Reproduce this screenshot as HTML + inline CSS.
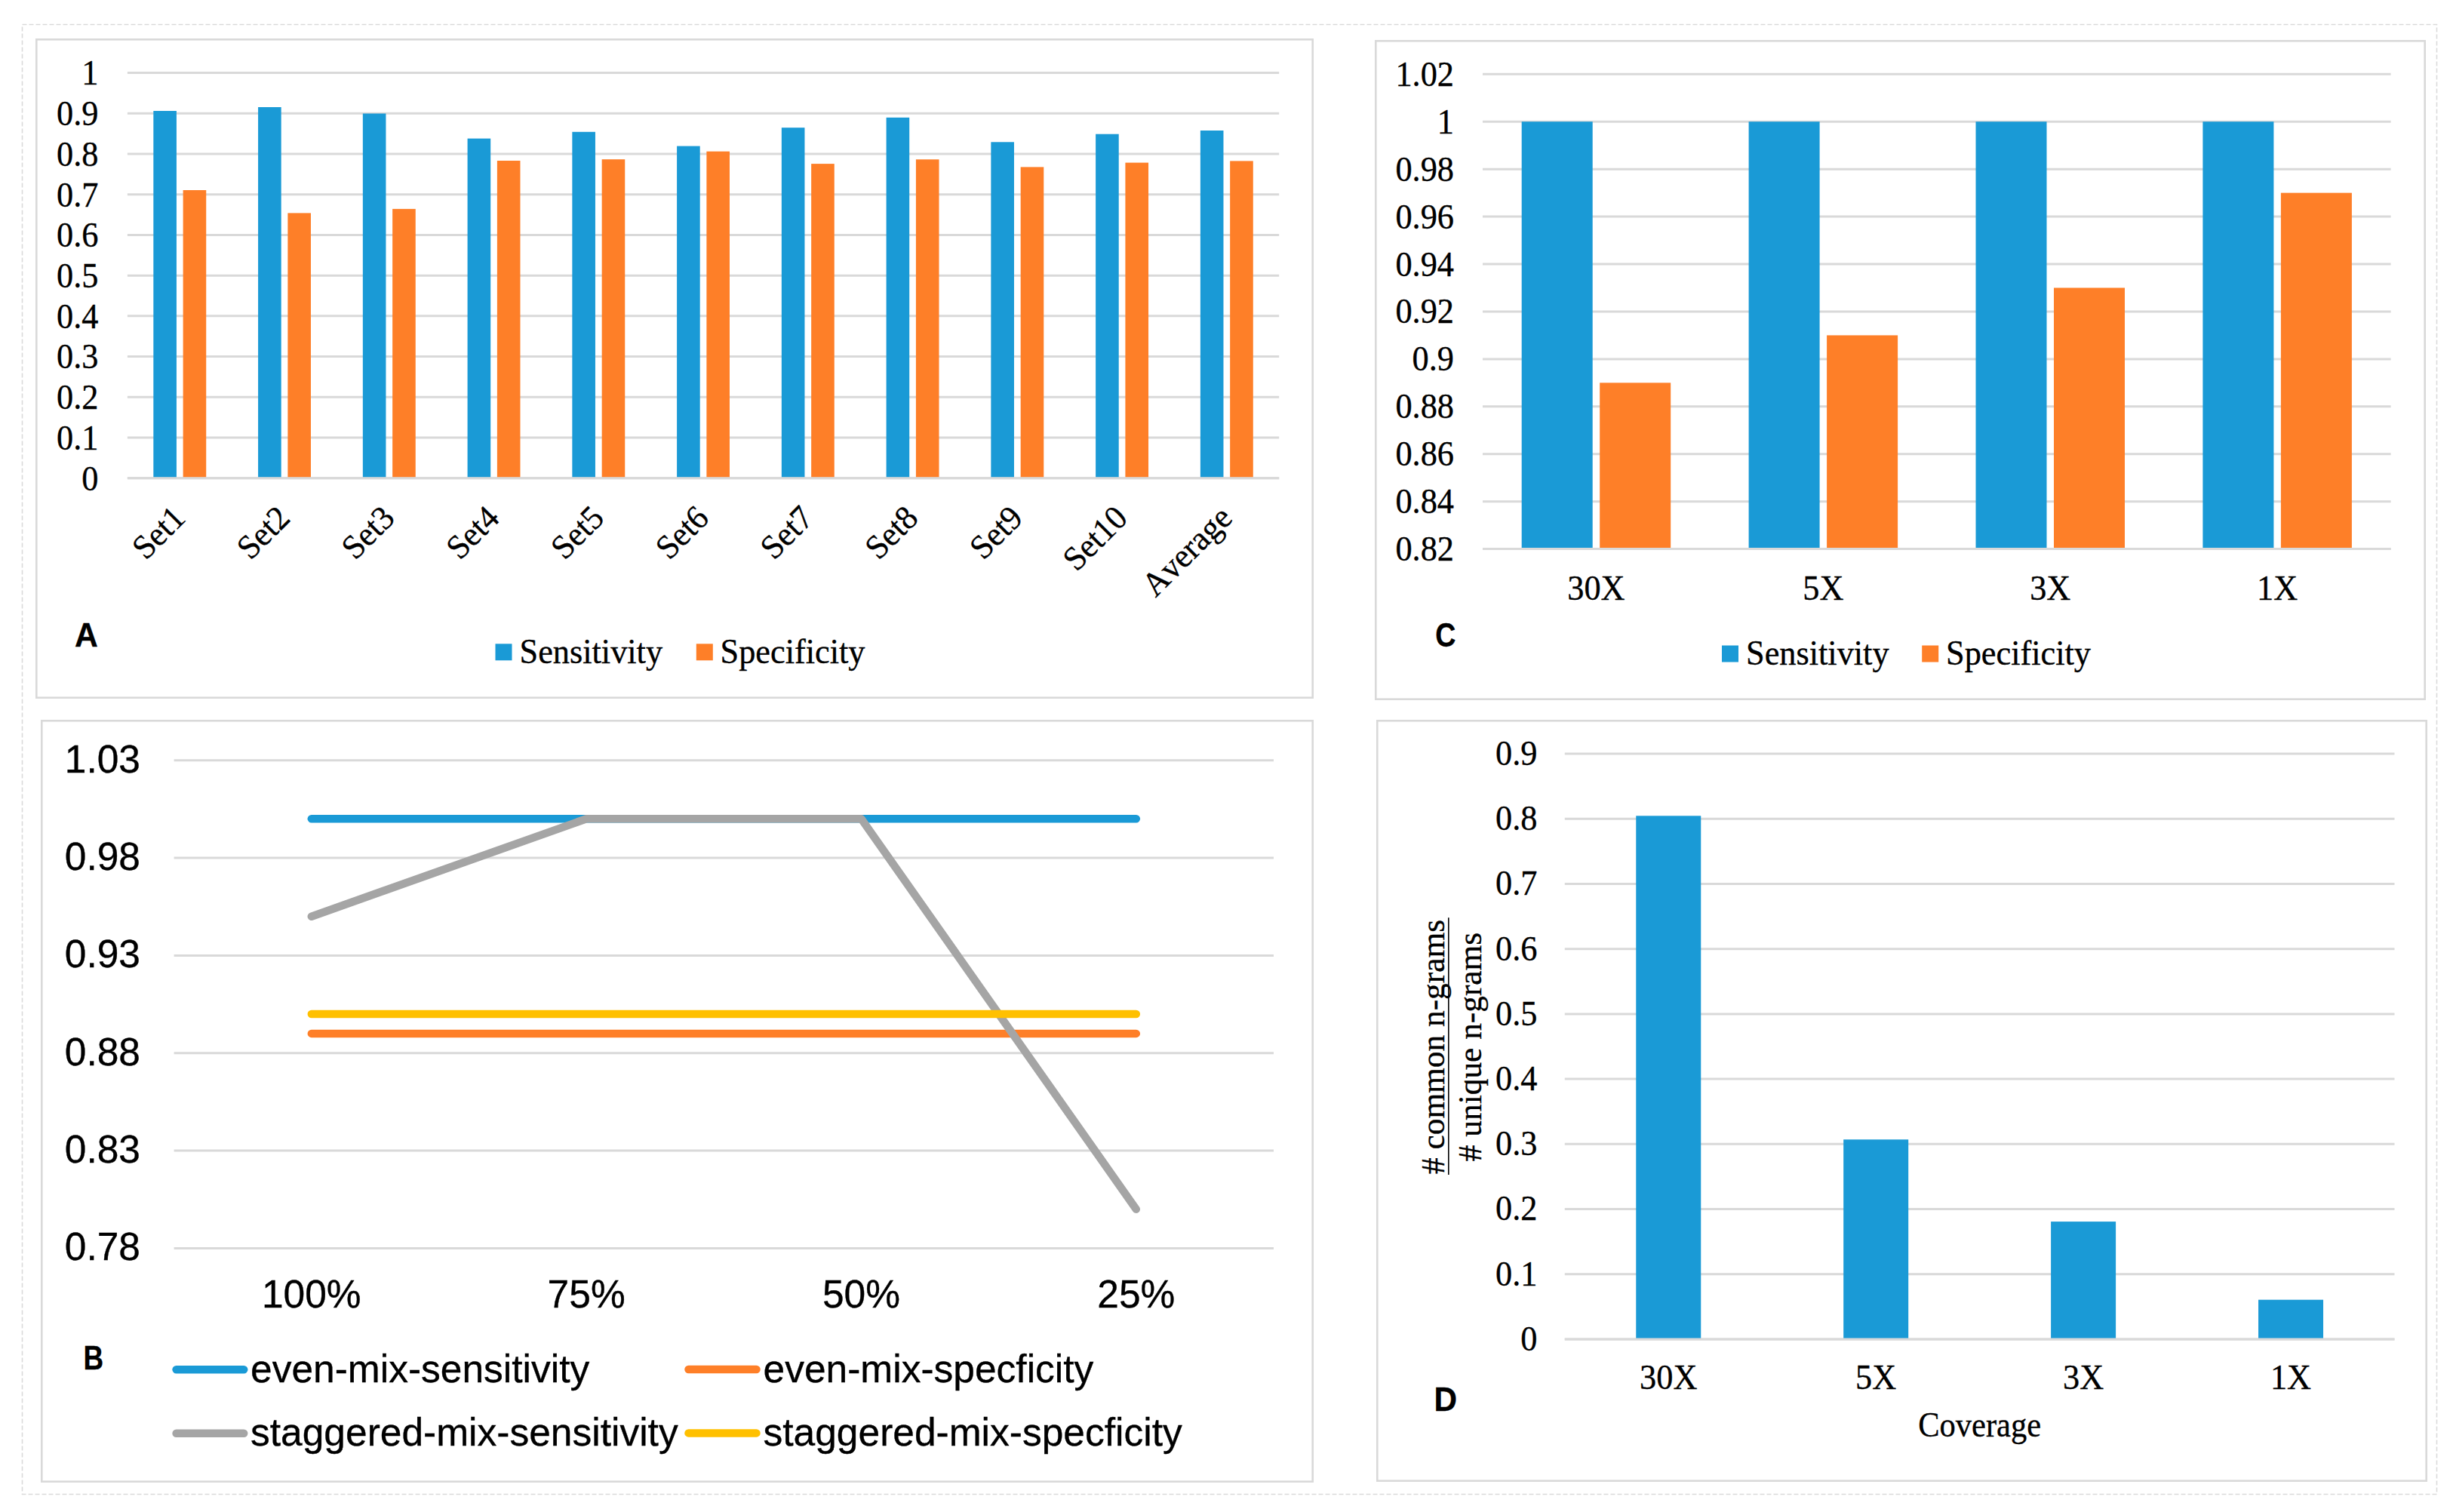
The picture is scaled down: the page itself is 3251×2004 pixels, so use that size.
<!DOCTYPE html>
<html><head><meta charset="utf-8"><title>Figure</title>
<style>html,body{margin:0;padding:0;background:#fff;overflow:hidden;}svg{display:block;}text{font-variant-ligatures:none;font-kerning:none;stroke:#000;stroke-width:0.35px;}</style>
</head><body>
<svg width="3251" height="2004" viewBox="0 0 3251 2004">
<rect x="0" y="0" width="3251" height="2004" fill="#ffffff"/>
<rect x="29.5" y="32.5" width="3200" height="1948" fill="none" stroke="#dadada" stroke-width="1.6" stroke-dasharray="6 3"/>
<rect x="48.3" y="52.3" width="1691.4" height="872.4" fill="none" stroke="#d9d9d9" stroke-width="2.6"/>
<rect x="1823.3" y="54.3" width="1390.4" height="872.4" fill="none" stroke="#d9d9d9" stroke-width="2.6"/>
<rect x="55.3" y="955.3" width="1684.4" height="1008.4" fill="none" stroke="#d9d9d9" stroke-width="2.6"/>
<rect x="1825.3" y="955.3" width="1390.4" height="1007.4" fill="none" stroke="#d9d9d9" stroke-width="2.6"/>
<line x1="168.9" y1="633.70" x2="1695.2" y2="633.70" stroke="#d9d9d9" stroke-width="3"/>
<line x1="168.9" y1="579.99" x2="1695.2" y2="579.99" stroke="#d9d9d9" stroke-width="3"/>
<line x1="168.9" y1="526.28" x2="1695.2" y2="526.28" stroke="#d9d9d9" stroke-width="3"/>
<line x1="168.9" y1="472.57" x2="1695.2" y2="472.57" stroke="#d9d9d9" stroke-width="3"/>
<line x1="168.9" y1="418.86" x2="1695.2" y2="418.86" stroke="#d9d9d9" stroke-width="3"/>
<line x1="168.9" y1="365.15" x2="1695.2" y2="365.15" stroke="#d9d9d9" stroke-width="3"/>
<line x1="168.9" y1="311.44" x2="1695.2" y2="311.44" stroke="#d9d9d9" stroke-width="3"/>
<line x1="168.9" y1="257.73" x2="1695.2" y2="257.73" stroke="#d9d9d9" stroke-width="3"/>
<line x1="168.9" y1="204.02" x2="1695.2" y2="204.02" stroke="#d9d9d9" stroke-width="3"/>
<line x1="168.9" y1="150.31" x2="1695.2" y2="150.31" stroke="#d9d9d9" stroke-width="3"/>
<line x1="168.9" y1="96.60" x2="1695.2" y2="96.60" stroke="#d9d9d9" stroke-width="3"/>
<text x="0" y="0" font-family="Liberation Serif, serif" font-size="45" text-anchor="end" transform="translate(130.50 649.50) scale(0.985 1.02)">0</text>
<text x="0" y="0" font-family="Liberation Serif, serif" font-size="45" text-anchor="end" transform="translate(130.50 595.79) scale(0.985 1.02)">0.1</text>
<text x="0" y="0" font-family="Liberation Serif, serif" font-size="45" text-anchor="end" transform="translate(130.50 542.08) scale(0.985 1.02)">0.2</text>
<text x="0" y="0" font-family="Liberation Serif, serif" font-size="45" text-anchor="end" transform="translate(130.50 488.37) scale(0.985 1.02)">0.3</text>
<text x="0" y="0" font-family="Liberation Serif, serif" font-size="45" text-anchor="end" transform="translate(130.50 434.66) scale(0.985 1.02)">0.4</text>
<text x="0" y="0" font-family="Liberation Serif, serif" font-size="45" text-anchor="end" transform="translate(130.50 380.95) scale(0.985 1.02)">0.5</text>
<text x="0" y="0" font-family="Liberation Serif, serif" font-size="45" text-anchor="end" transform="translate(130.50 327.24) scale(0.985 1.02)">0.6</text>
<text x="0" y="0" font-family="Liberation Serif, serif" font-size="45" text-anchor="end" transform="translate(130.50 273.53) scale(0.985 1.02)">0.7</text>
<text x="0" y="0" font-family="Liberation Serif, serif" font-size="45" text-anchor="end" transform="translate(130.50 219.82) scale(0.985 1.02)">0.8</text>
<text x="0" y="0" font-family="Liberation Serif, serif" font-size="45" text-anchor="end" transform="translate(130.50 166.11) scale(0.985 1.02)">0.9</text>
<text x="0" y="0" font-family="Liberation Serif, serif" font-size="45" text-anchor="end" transform="translate(130.50 112.40) scale(0.985 1.02)">1</text>
<rect x="203.33" y="147" width="30.6" height="486.70" fill="#1A9AD6"/>
<rect x="242.63" y="252" width="30.6" height="381.70" fill="#FE7F28"/>
<rect x="342.08" y="142" width="30.6" height="491.70" fill="#1A9AD6"/>
<rect x="381.38" y="282.4" width="30.6" height="351.30" fill="#FE7F28"/>
<rect x="480.84" y="150.5" width="30.6" height="483.20" fill="#1A9AD6"/>
<rect x="520.14" y="276.9" width="30.6" height="356.80" fill="#FE7F28"/>
<rect x="619.59" y="183.6" width="30.6" height="450.10" fill="#1A9AD6"/>
<rect x="658.89" y="213" width="30.6" height="420.70" fill="#FE7F28"/>
<rect x="758.35" y="174.8" width="30.6" height="458.90" fill="#1A9AD6"/>
<rect x="797.65" y="211.2" width="30.6" height="422.50" fill="#FE7F28"/>
<rect x="897.10" y="193.6" width="30.6" height="440.10" fill="#1A9AD6"/>
<rect x="936.40" y="200.7" width="30.6" height="433.00" fill="#FE7F28"/>
<rect x="1035.85" y="169.2" width="30.6" height="464.50" fill="#1A9AD6"/>
<rect x="1075.15" y="217.1" width="30.6" height="416.60" fill="#FE7F28"/>
<rect x="1174.61" y="155.8" width="30.6" height="477.90" fill="#1A9AD6"/>
<rect x="1213.91" y="211.3" width="30.6" height="422.40" fill="#FE7F28"/>
<rect x="1313.36" y="188.3" width="30.6" height="445.40" fill="#1A9AD6"/>
<rect x="1352.66" y="221.4" width="30.6" height="412.30" fill="#FE7F28"/>
<rect x="1452.12" y="177.7" width="30.6" height="456.00" fill="#1A9AD6"/>
<rect x="1491.42" y="215.6" width="30.6" height="418.10" fill="#FE7F28"/>
<rect x="1590.87" y="173" width="30.6" height="460.70" fill="#1A9AD6"/>
<rect x="1630.17" y="213.4" width="30.6" height="420.30" fill="#FE7F28"/>
<line x1="168.9" y1="633.70" x2="1695.2" y2="633.70" stroke="#d9d9d9" stroke-width="3"/>
<text x="0" y="0" font-family="Liberation Serif, serif" font-size="44" text-anchor="end" transform="translate(247.78 689.00) rotate(-45) scale(0.985 1.02)">Set1</text>
<text x="0" y="0" font-family="Liberation Serif, serif" font-size="44" text-anchor="end" transform="translate(386.53 689.00) rotate(-45) scale(0.985 1.02)">Set2</text>
<text x="0" y="0" font-family="Liberation Serif, serif" font-size="44" text-anchor="end" transform="translate(525.29 689.00) rotate(-45) scale(0.985 1.02)">Set3</text>
<text x="0" y="0" font-family="Liberation Serif, serif" font-size="44" text-anchor="end" transform="translate(664.04 689.00) rotate(-45) scale(0.985 1.02)">Set4</text>
<text x="0" y="0" font-family="Liberation Serif, serif" font-size="44" text-anchor="end" transform="translate(802.80 689.00) rotate(-45) scale(0.985 1.02)">Set5</text>
<text x="0" y="0" font-family="Liberation Serif, serif" font-size="44" text-anchor="end" transform="translate(941.55 689.00) rotate(-45) scale(0.985 1.02)">Set6</text>
<text x="0" y="0" font-family="Liberation Serif, serif" font-size="44" text-anchor="end" transform="translate(1080.30 689.00) rotate(-45) scale(0.985 1.02)">Set7</text>
<text x="0" y="0" font-family="Liberation Serif, serif" font-size="44" text-anchor="end" transform="translate(1219.06 689.00) rotate(-45) scale(0.985 1.02)">Set8</text>
<text x="0" y="0" font-family="Liberation Serif, serif" font-size="44" text-anchor="end" transform="translate(1357.81 689.00) rotate(-45) scale(0.985 1.02)">Set9</text>
<text x="0" y="0" font-family="Liberation Serif, serif" font-size="44" text-anchor="end" transform="translate(1496.57 689.00) rotate(-45) scale(0.985 1.02)">Set10</text>
<text x="0" y="0" font-family="Liberation Serif, serif" font-size="44" text-anchor="end" transform="translate(1635.32 689.00) rotate(-45) scale(0.985 1.02)">Average</text>
<text x="0" y="0" font-family="Liberation Sans, sans-serif" font-weight="bold" font-size="45" text-anchor="start" transform="translate(99.00 856.50) scale(0.95 1.0)">A</text>
<rect x="656.5" y="853.3" width="22" height="22" fill="#1A9AD6"/>
<text x="0" y="0" font-family="Liberation Serif, serif" font-size="45" text-anchor="start" transform="translate(688.50 879.20) scale(0.985 1.02)">Sensitivity</text>
<rect x="922.8" y="853.3" width="22" height="22" fill="#FE7F28"/>
<text x="0" y="0" font-family="Liberation Serif, serif" font-size="45" text-anchor="start" transform="translate(954.50 879.20) scale(0.985 1.02)">Specificity</text>
<line x1="1965" y1="727.60" x2="3168.6" y2="727.60" stroke="#d9d9d9" stroke-width="3"/>
<line x1="1965" y1="664.67" x2="3168.6" y2="664.67" stroke="#d9d9d9" stroke-width="3"/>
<line x1="1965" y1="601.74" x2="3168.6" y2="601.74" stroke="#d9d9d9" stroke-width="3"/>
<line x1="1965" y1="538.81" x2="3168.6" y2="538.81" stroke="#d9d9d9" stroke-width="3"/>
<line x1="1965" y1="475.88" x2="3168.6" y2="475.88" stroke="#d9d9d9" stroke-width="3"/>
<line x1="1965" y1="412.95" x2="3168.6" y2="412.95" stroke="#d9d9d9" stroke-width="3"/>
<line x1="1965" y1="350.02" x2="3168.6" y2="350.02" stroke="#d9d9d9" stroke-width="3"/>
<line x1="1965" y1="287.09" x2="3168.6" y2="287.09" stroke="#d9d9d9" stroke-width="3"/>
<line x1="1965" y1="224.16" x2="3168.6" y2="224.16" stroke="#d9d9d9" stroke-width="3"/>
<line x1="1965" y1="161.23" x2="3168.6" y2="161.23" stroke="#d9d9d9" stroke-width="3"/>
<line x1="1965" y1="98.30" x2="3168.6" y2="98.30" stroke="#d9d9d9" stroke-width="3"/>
<text x="0" y="0" font-family="Liberation Serif, serif" font-size="45" text-anchor="end" transform="translate(1927.00 743.10) scale(0.985 1.02)">0.82</text>
<text x="0" y="0" font-family="Liberation Serif, serif" font-size="45" text-anchor="end" transform="translate(1927.00 680.17) scale(0.985 1.02)">0.84</text>
<text x="0" y="0" font-family="Liberation Serif, serif" font-size="45" text-anchor="end" transform="translate(1927.00 617.24) scale(0.985 1.02)">0.86</text>
<text x="0" y="0" font-family="Liberation Serif, serif" font-size="45" text-anchor="end" transform="translate(1927.00 554.31) scale(0.985 1.02)">0.88</text>
<text x="0" y="0" font-family="Liberation Serif, serif" font-size="45" text-anchor="end" transform="translate(1927.00 491.38) scale(0.985 1.02)">0.9</text>
<text x="0" y="0" font-family="Liberation Serif, serif" font-size="45" text-anchor="end" transform="translate(1927.00 428.45) scale(0.985 1.02)">0.92</text>
<text x="0" y="0" font-family="Liberation Serif, serif" font-size="45" text-anchor="end" transform="translate(1927.00 365.52) scale(0.985 1.02)">0.94</text>
<text x="0" y="0" font-family="Liberation Serif, serif" font-size="45" text-anchor="end" transform="translate(1927.00 302.59) scale(0.985 1.02)">0.96</text>
<text x="0" y="0" font-family="Liberation Serif, serif" font-size="45" text-anchor="end" transform="translate(1927.00 239.66) scale(0.985 1.02)">0.98</text>
<text x="0" y="0" font-family="Liberation Serif, serif" font-size="45" text-anchor="end" transform="translate(1927.00 176.73) scale(0.985 1.02)">1</text>
<text x="0" y="0" font-family="Liberation Serif, serif" font-size="45" text-anchor="end" transform="translate(1927.00 113.80) scale(0.985 1.02)">1.02</text>
<rect x="2016.70" y="161.23" width="94" height="566.37" fill="#1A9AD6"/>
<rect x="2120.20" y="507.34" width="94" height="220.26" fill="#FE7F28"/>
<text x="0" y="0" font-family="Liberation Serif, serif" font-size="45" text-anchor="middle" transform="translate(2115.45 794.80) scale(0.985 1.02)">30X</text>
<rect x="2317.60" y="161.23" width="94" height="566.37" fill="#1A9AD6"/>
<rect x="2421.10" y="444.41" width="94" height="283.19" fill="#FE7F28"/>
<text x="0" y="0" font-family="Liberation Serif, serif" font-size="45" text-anchor="middle" transform="translate(2416.35 794.80) scale(0.985 1.02)">5X</text>
<rect x="2618.50" y="161.23" width="94" height="566.37" fill="#1A9AD6"/>
<rect x="2722.00" y="381.48" width="94" height="346.12" fill="#FE7F28"/>
<text x="0" y="0" font-family="Liberation Serif, serif" font-size="45" text-anchor="middle" transform="translate(2717.25 794.80) scale(0.985 1.02)">3X</text>
<rect x="2919.40" y="161.23" width="94" height="566.37" fill="#1A9AD6"/>
<rect x="3022.90" y="255.62" width="94" height="471.98" fill="#FE7F28"/>
<text x="0" y="0" font-family="Liberation Serif, serif" font-size="45" text-anchor="middle" transform="translate(3018.15 794.80) scale(0.985 1.02)">1X</text>
<line x1="1965" y1="727.60" x2="3168.6" y2="727.60" stroke="#d9d9d9" stroke-width="3"/>
<text x="0" y="0" font-family="Liberation Sans, sans-serif" font-weight="bold" font-size="45" text-anchor="start" transform="translate(1902.30 856.50) scale(0.834 1.0)">C</text>
<rect x="2282" y="855.5" width="22" height="22" fill="#1A9AD6"/>
<text x="0" y="0" font-family="Liberation Serif, serif" font-size="45" text-anchor="start" transform="translate(2314.00 880.50) scale(0.985 1.02)">Sensitivity</text>
<rect x="2547.2" y="855.5" width="22" height="22" fill="#FE7F28"/>
<text x="0" y="0" font-family="Liberation Serif, serif" font-size="45" text-anchor="start" transform="translate(2579.00 880.50) scale(0.985 1.02)">Specificity</text>
<line x1="230.6" y1="1007.70" x2="1688" y2="1007.70" stroke="#d9d9d9" stroke-width="3"/>
<line x1="230.6" y1="1137.05" x2="1688" y2="1137.05" stroke="#d9d9d9" stroke-width="3"/>
<line x1="230.6" y1="1266.40" x2="1688" y2="1266.40" stroke="#d9d9d9" stroke-width="3"/>
<line x1="230.6" y1="1395.75" x2="1688" y2="1395.75" stroke="#d9d9d9" stroke-width="3"/>
<line x1="230.6" y1="1525.10" x2="1688" y2="1525.10" stroke="#d9d9d9" stroke-width="3"/>
<line x1="230.6" y1="1654.45" x2="1688" y2="1654.45" stroke="#d9d9d9" stroke-width="3"/>
<text x="0" y="0" font-family="Liberation Sans, sans-serif" font-size="51.5" text-anchor="end" transform="translate(186.00 1023.50)">1.03</text>
<text x="0" y="0" font-family="Liberation Sans, sans-serif" font-size="51.5" text-anchor="end" transform="translate(186.00 1152.85)">0.98</text>
<text x="0" y="0" font-family="Liberation Sans, sans-serif" font-size="51.5" text-anchor="end" transform="translate(186.00 1282.20)">0.93</text>
<text x="0" y="0" font-family="Liberation Sans, sans-serif" font-size="51.5" text-anchor="end" transform="translate(186.00 1411.55)">0.88</text>
<text x="0" y="0" font-family="Liberation Sans, sans-serif" font-size="51.5" text-anchor="end" transform="translate(186.00 1540.90)">0.83</text>
<text x="0" y="0" font-family="Liberation Sans, sans-serif" font-size="51.5" text-anchor="end" transform="translate(186.00 1670.25)">0.78</text>
<text x="0" y="0" font-family="Liberation Sans, sans-serif" font-size="51.5" text-anchor="middle" transform="translate(412.77 1733.30)">100%</text>
<text x="0" y="0" font-family="Liberation Sans, sans-serif" font-size="51.5" text-anchor="middle" transform="translate(777.13 1733.30)">75%</text>
<text x="0" y="0" font-family="Liberation Sans, sans-serif" font-size="51.5" text-anchor="middle" transform="translate(1141.47 1733.30)">50%</text>
<text x="0" y="0" font-family="Liberation Sans, sans-serif" font-size="51.5" text-anchor="middle" transform="translate(1505.83 1733.30)">25%</text>
<polyline points="412.8,1085.3 777.1,1085.3 1141.5,1085.3 1505.8,1085.3" fill="none" stroke="#1A9AD6" stroke-width="10.5" stroke-linecap="round" stroke-linejoin="round"/>
<polyline points="412.8,1369.9 777.1,1369.9 1141.5,1369.9 1505.8,1369.9" fill="none" stroke="#FE7F28" stroke-width="10.5" stroke-linecap="round" stroke-linejoin="round"/>
<polyline points="412.8,1214.7 777.1,1085.3 1141.5,1085.3 1505.8,1602.7" fill="none" stroke="#A5A5A5" stroke-width="10.5" stroke-linecap="round" stroke-linejoin="round"/>
<polyline points="412.8,1344.0 777.1,1344.0 1141.5,1344.0 1505.8,1344.0" fill="none" stroke="#FFC000" stroke-width="10.5" stroke-linecap="round" stroke-linejoin="round"/>
<text x="0" y="0" font-family="Liberation Sans, sans-serif" font-weight="bold" font-size="45" text-anchor="start" transform="translate(110.50 1815.00) scale(0.82 1.0)">B</text>
<line x1="233.6" y1="1815.3" x2="323.2" y2="1815.3" stroke="#1A9AD6" stroke-width="10.5" stroke-linecap="round"/>
<line x1="912.5" y1="1815.0" x2="1002.5" y2="1815.0" stroke="#FE7F28" stroke-width="10.5" stroke-linecap="round"/>
<line x1="233.6" y1="1899.7" x2="323.2" y2="1899.7" stroke="#A5A5A5" stroke-width="10.5" stroke-linecap="round"/>
<line x1="912.5" y1="1899.4" x2="1002.5" y2="1899.4" stroke="#FFC000" stroke-width="10.5" stroke-linecap="round"/>
<text x="0" y="0" font-family="Liberation Sans, sans-serif" font-size="51.5" text-anchor="start" transform="translate(332.00 1832.00)">even-mix-sensitivity</text>
<text x="0" y="0" font-family="Liberation Sans, sans-serif" font-size="51.5" text-anchor="start" transform="translate(1011.50 1832.00)">even-mix-specficity</text>
<text x="0" y="0" font-family="Liberation Sans, sans-serif" font-size="51.5" text-anchor="start" transform="translate(332.00 1916.40)">staggered-mix-sensitivity</text>
<text x="0" y="0" font-family="Liberation Sans, sans-serif" font-size="51.5" text-anchor="start" transform="translate(1011.50 1916.40)">staggered-mix-specficity</text>
<line x1="2073.8" y1="1774.90" x2="3173.5" y2="1774.90" stroke="#d9d9d9" stroke-width="3"/>
<line x1="2073.8" y1="1688.70" x2="3173.5" y2="1688.70" stroke="#d9d9d9" stroke-width="3"/>
<line x1="2073.8" y1="1602.50" x2="3173.5" y2="1602.50" stroke="#d9d9d9" stroke-width="3"/>
<line x1="2073.8" y1="1516.30" x2="3173.5" y2="1516.30" stroke="#d9d9d9" stroke-width="3"/>
<line x1="2073.8" y1="1430.10" x2="3173.5" y2="1430.10" stroke="#d9d9d9" stroke-width="3"/>
<line x1="2073.8" y1="1343.90" x2="3173.5" y2="1343.90" stroke="#d9d9d9" stroke-width="3"/>
<line x1="2073.8" y1="1257.70" x2="3173.5" y2="1257.70" stroke="#d9d9d9" stroke-width="3"/>
<line x1="2073.8" y1="1171.50" x2="3173.5" y2="1171.50" stroke="#d9d9d9" stroke-width="3"/>
<line x1="2073.8" y1="1085.30" x2="3173.5" y2="1085.30" stroke="#d9d9d9" stroke-width="3"/>
<line x1="2073.8" y1="999.10" x2="3173.5" y2="999.10" stroke="#d9d9d9" stroke-width="3"/>
<text x="0" y="0" font-family="Liberation Serif, serif" font-size="45" text-anchor="end" transform="translate(2037.50 1789.70) scale(0.985 1.02)">0</text>
<text x="0" y="0" font-family="Liberation Serif, serif" font-size="45" text-anchor="end" transform="translate(2037.50 1703.50) scale(0.985 1.02)">0.1</text>
<text x="0" y="0" font-family="Liberation Serif, serif" font-size="45" text-anchor="end" transform="translate(2037.50 1617.30) scale(0.985 1.02)">0.2</text>
<text x="0" y="0" font-family="Liberation Serif, serif" font-size="45" text-anchor="end" transform="translate(2037.50 1531.10) scale(0.985 1.02)">0.3</text>
<text x="0" y="0" font-family="Liberation Serif, serif" font-size="45" text-anchor="end" transform="translate(2037.50 1444.90) scale(0.985 1.02)">0.4</text>
<text x="0" y="0" font-family="Liberation Serif, serif" font-size="45" text-anchor="end" transform="translate(2037.50 1358.70) scale(0.985 1.02)">0.5</text>
<text x="0" y="0" font-family="Liberation Serif, serif" font-size="45" text-anchor="end" transform="translate(2037.50 1272.50) scale(0.985 1.02)">0.6</text>
<text x="0" y="0" font-family="Liberation Serif, serif" font-size="45" text-anchor="end" transform="translate(2037.50 1186.30) scale(0.985 1.02)">0.7</text>
<text x="0" y="0" font-family="Liberation Serif, serif" font-size="45" text-anchor="end" transform="translate(2037.50 1100.10) scale(0.985 1.02)">0.8</text>
<text x="0" y="0" font-family="Liberation Serif, serif" font-size="45" text-anchor="end" transform="translate(2037.50 1013.90) scale(0.985 1.02)">0.9</text>
<rect x="2168.26" y="1081.3" width="86" height="693.60" fill="#1A9AD6"/>
<text x="0" y="0" font-family="Liberation Serif, serif" font-size="45" text-anchor="middle" transform="translate(2211.26 1841.00) scale(0.985 1.02)">30X</text>
<rect x="2443.19" y="1510.3" width="86" height="264.60" fill="#1A9AD6"/>
<text x="0" y="0" font-family="Liberation Serif, serif" font-size="45" text-anchor="middle" transform="translate(2486.19 1841.00) scale(0.985 1.02)">5X</text>
<rect x="2718.11" y="1619.1" width="86" height="155.80" fill="#1A9AD6"/>
<text x="0" y="0" font-family="Liberation Serif, serif" font-size="45" text-anchor="middle" transform="translate(2761.11 1841.00) scale(0.985 1.02)">3X</text>
<rect x="2993.04" y="1722.7" width="86" height="52.20" fill="#1A9AD6"/>
<text x="0" y="0" font-family="Liberation Serif, serif" font-size="45" text-anchor="middle" transform="translate(3036.04 1841.00) scale(0.985 1.02)">1X</text>
<line x1="2073.8" y1="1774.90" x2="3173.5" y2="1774.90" stroke="#d9d9d9" stroke-width="3"/>
<text x="0" y="0" font-family="Liberation Serif, serif" font-size="45" text-anchor="middle" transform="translate(2623.65 1903.60) scale(0.944 1.02)">Coverage</text>
<text x="0" y="0" font-family="Liberation Sans, sans-serif" font-weight="bold" font-size="45" text-anchor="start" transform="translate(1900.50 1869.60) scale(0.94 1.0)">D</text>
<text x="0" y="0" font-family="Liberation Serif, serif" font-size="44" text-anchor="middle" transform="translate(1914.00 1387.50) rotate(-90) scale(0.985 1.02)">#&#160;common n-grams</text>
<line x1="1919.8" y1="1216.3" x2="1919.8" y2="1556.9" stroke="#000" stroke-width="1.6"/>
<text x="0" y="0" font-family="Liberation Serif, serif" font-size="44" text-anchor="middle" transform="translate(1963.00 1387.50) rotate(-90) scale(0.985 1.02)">#&#160;unique n-grams</text>
</svg>
</body></html>
